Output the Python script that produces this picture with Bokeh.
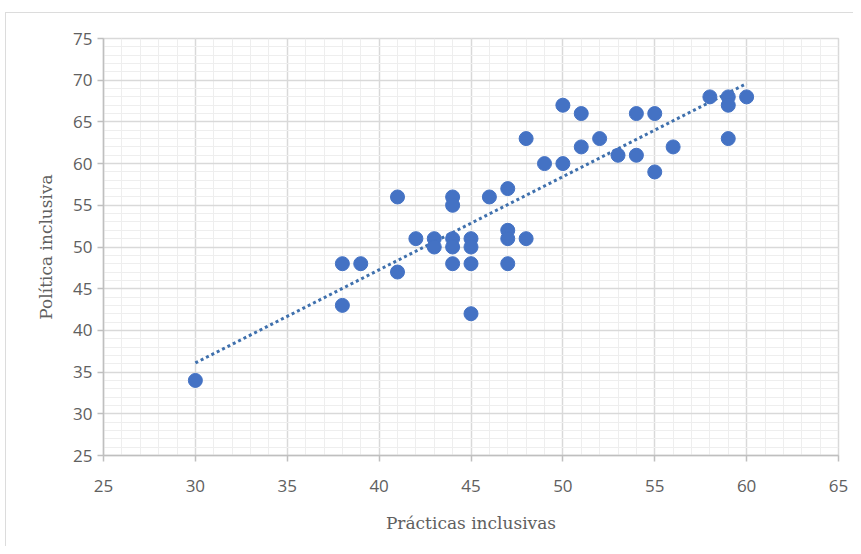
from bokeh.plotting import figure
from bokeh.models import Range1d, FixedTicker
from bokeh.embed import file_html
from bokeh.resources import INLINE

# Data
practicas = [30, 38, 38, 39, 41, 41, 42, 43, 43, 44, 44, 44, 44, 44,
             45, 45, 45, 45, 46, 47, 47, 47, 47, 48, 48, 49, 50, 50,
             51, 51, 52, 53, 54, 54, 55, 55, 56, 58, 59, 59, 59, 60]
politica = [34, 48, 43, 48, 56, 47, 51, 51, 50, 56, 55, 51, 50, 48,
            51, 50, 48, 42, 56, 57, 52, 51, 48, 63, 51, 60, 67, 60,
            66, 62, 63, 61, 66, 61, 66, 59, 62, 68, 68, 67, 63, 68]

# Linear trend line endpoints
trend_x = [30, 60]
trend_y = [36.1, 69.6]

x_ticks = [25, 30, 35, 40, 45, 50, 55, 60, 65]
y_ticks = [25, 30, 35, 40, 45, 50, 55, 60, 65, 70, 75]
x_minor = list(range(25, 66))
y_minor = list(range(25, 76))

x_label = "Prácticas inclusivas"
y_label = "Política inclusiva"

p = figure(width=848, height=534,
           x_range=Range1d(x_ticks[0], x_ticks[-1]),
           y_range=Range1d(y_ticks[0], y_ticks[-1]),
           output_backend="svg", toolbar_location=None,
           min_border_left=97, min_border_right=16,
           min_border_top=25, min_border_bottom=92)
p.styles = {"margin-left": "5px", "margin-top": "12px",
            "border-left": "1px solid #dcdcdc", "border-top": "1px solid #dcdcdc"}

p.xaxis.ticker = FixedTicker(ticks=x_ticks, minor_ticks=x_minor)
p.yaxis.ticker = FixedTicker(ticks=y_ticks, minor_ticks=y_minor)

for g in (p.xgrid, p.ygrid):
    g.grid_line_color = "#d9d9d9"
    g.grid_line_width = 1.5
    g.minor_grid_line_color = "#eeeeee"
    g.minor_grid_line_width = 1

p.outline_line_color = "#d9d9d9"
p.outline_line_width = 1.5

for ax in (p.xaxis, p.yaxis):
    ax.axis_line_color = "#bfbfbf"
    ax.axis_line_width = 1.5
    ax.major_tick_line_color = "#bfbfbf"
    ax.major_tick_line_width = 1.5
    ax.major_tick_out = 6
    ax.major_tick_in = 0
    ax.minor_tick_line_color = None
    ax.major_label_text_font = "Open Sans"
    ax.major_label_text_font_size = "17px"
    ax.major_label_text_color = "#606060"
    ax.axis_label_text_font = "DejaVu Serif"
    ax.axis_label_text_font_size = "17px"
    ax.axis_label_text_font_style = "normal"
    ax.axis_label_text_color = "#606060"

p.xaxis.axis_label = x_label
p.yaxis.axis_label = y_label
p.xaxis.axis_label_standoff = 18
p.yaxis.axis_label_standoff = 14
p.xaxis.major_label_standoff = 18
p.yaxis.major_label_standoff = 5

p.line(trend_x, trend_y, line_dash="3 3", line_width=3, line_color="#3f70ad")
p.scatter(practicas, politica, size=14, fill_color="#4472C4", line_color="#4472C4")

open("out.html", "w").write(file_html(p, INLINE))
